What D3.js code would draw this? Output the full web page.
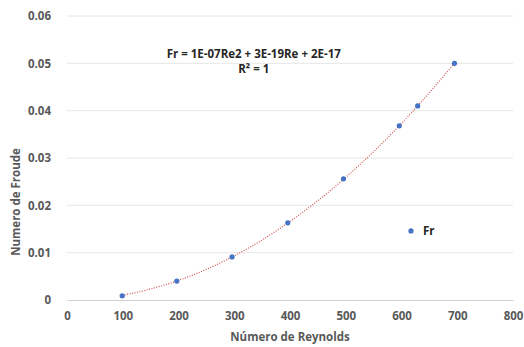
<!DOCTYPE html>
<meta charset="utf-8">
<script src="https://d3js.org/d3.v7.min.js"></script>
<style>
  body { margin: 0; background: #fff; }
  text { font-family: "Open Sans", sans-serif; }
</style>
<div id="my_dataviz"></div>
<script>
// data
var reynolds = [99, 197, 296, 396, 496, 596, 629, 695];
var froude = [0.0009, 0.004, 0.0091, 0.0163, 0.0256, 0.0368, 0.041, 0.05];
var xTicks = [0, 100, 200, 300, 400, 500, 600, 700, 800];
var yTicks = [0, 0.01, 0.02, 0.03, 0.04, 0.05, 0.06];

var margin = {top: 16, right: 11, bottom: 47, left: 67},
    width = 524 - margin.left - margin.right,
    height = 347 - margin.top - margin.bottom;

var svg = d3.select("#my_dataviz")
  .append("svg")
    .attr("width", 524)
    .attr("height", 347)
  .append("g")
    .attr("transform", "translate(" + margin.left + "," + margin.top + ")");

var xScale = d3.scaleLinear().domain([0, 800]).range([0, width]);
var yScale = d3.scaleLinear().domain([0, 0.06]).range([height, 0]);

// gridlines
svg.selectAll(".grid")
  .data(yTicks.slice(1))
  .enter().append("line")
    .attr("x1", 0).attr("x2", width)
    .attr("y1", function(d) { return yScale(d); })
    .attr("y2", function(d) { return yScale(d); })
    .attr("stroke", "#e6e6e6")
    .attr("stroke-width", 1);

// x axis
var xAxis = svg.append("g")
  .attr("transform", "translate(0," + height + ")")
  .call(d3.axisBottom(xScale).tickValues(xTicks).tickSize(0).tickPadding(12)
    .tickFormat(d3.format("d")));
xAxis.select(".domain").attr("stroke", "#d0d0d0");
xAxis.selectAll("text")
  .attr("font-size", "11.5px").attr("font-weight", "bold").attr("fill", "#595959")
  .style("font-family", "'Open Sans', sans-serif");

// y axis
var yAxis = svg.append("g")
  .call(d3.axisLeft(yScale).tickValues(yTicks).tickSize(0).tickPadding(16)
    .tickFormat(function(d) { return d === 0 ? "0" : d3.format(".2f")(d); }));
yAxis.select(".domain").remove();
yAxis.selectAll("text")
  .attr("font-size", "11.5px").attr("font-weight", "bold").attr("fill", "#595959")
  .style("font-family", "'Open Sans', sans-serif");

// axis titles
svg.append("text")
  .attr("x", width / 2).attr("y", height + 41)
  .attr("text-anchor", "middle")
  .attr("font-size", "11.5px").attr("font-weight", "bold").attr("fill", "#595959")
  .text("Número de Reynolds");

svg.append("text")
  .attr("transform", "rotate(-90)")
  .attr("x", -(yScale(0.0207))).attr("y", -47)
  .attr("text-anchor", "middle")
  .attr("font-size", "11.5px").attr("font-weight", "bold").attr("fill", "#595959")
  .text("Numero de Froude");

// quadratic trend line (least squares through origin, fitted to the points)
var sumX4 = d3.sum(reynolds, function(d) { return Math.pow(d, 4); });
var sumX2Y = d3.sum(reynolds, function(d, i) { return d * d * froude[i]; });
var a = sumX2Y / sumX4;
var trendX = d3.range(reynolds[0], reynolds[reynolds.length - 1] + 0.5, 2);
svg.append("path")
  .datum(trendX)
  .attr("fill", "none")
  .attr("stroke", "#d0504d")
  .attr("stroke-width", 1.2)
  .attr("stroke-dasharray", "1,1.5")
  .attr("d", d3.line()
    .x(function(d) { return xScale(d); })
    .y(function(d) { return yScale(a * d * d); }));

// points
svg.selectAll(".pt")
  .data(reynolds)
  .enter().append("circle")
    .attr("cx", function(d) { return xScale(d); })
    .attr("cy", function(d, i) { return yScale(froude[i]); })
    .attr("r", 2.6)
    .attr("fill", "#4472c4");

// equation
svg.append("text")
  .attr("x", xScale(335)).attr("y", yScale(0.0512))
  .attr("text-anchor", "middle")
  .attr("font-size", "11.5px").attr("font-weight", "bold").attr("fill", "#262626")
  .text("Fr = 1E-07Re2 + 3E-19Re + 2E-17");
svg.append("text")
  .attr("x", xScale(335)).attr("y", yScale(0.048))
  .attr("text-anchor", "middle")
  .attr("font-size", "11.5px").attr("font-weight", "bold").attr("fill", "#262626")
  .text("R² = 1");

// legend
var legend = svg.append("g").attr("transform", "translate(" + xScale(617) + "," + yScale(0.0146) + ")");
legend.append("circle").attr("r", 2.6).attr("fill", "#4472c4");
legend.append("text")
  .attr("x", 12).attr("y", 4)
  .attr("font-size", "11.5px").attr("font-weight", "bold").attr("fill", "#262626")
  .text("Fr");
</script>
